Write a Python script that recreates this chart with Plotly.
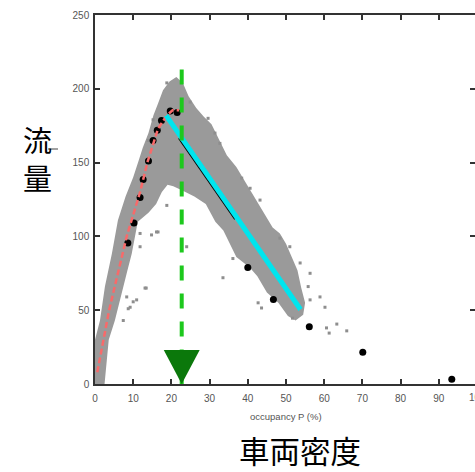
import plotly.graph_objects as go

# ---- data ----
x_ticks = [0, 10, 20, 30, 40, 50, 60, 70, 80, 90]
y_ticks = [0, 50, 100, 150, 200, 250]

# outline of the dense gray scatter cloud (occupancy %, flow)
cloud_x = [0, 0, 1.3, 2.6, 4.4, 6.0, 8.0, 10.0, 11.5, 12.5, 14.0, 15.3, 16.5, 17.8, 19.5, 21.3,
           23.0, 24.5, 26.5, 28.5, 30.5, 32.5, 34.5, 37.0, 39.5, 42.0, 44.5, 46.5, 48.4, 50.0,
           51.5, 53.0, 54.0, 55.0, 54.5, 52.5, 50.5, 48.0, 45.0, 42.5, 40.5, 37.0, 33.6, 31.5,
           29.0, 26.0, 23.0, 20.5, 19.0, 17.5, 16.0, 14.0, 11.2, 10.5, 9.6, 8.5, 7.4, 6.3, 5.2,
           3.6, 3.0, 2.5]
cloud_y = [0, 30, 43, 66, 88, 111, 127, 140, 152, 160, 170, 182, 190, 199, 205, 208,
           204, 195, 187, 181, 176, 165, 155, 147, 136, 125, 114, 106, 102, 95,
           86, 77, 65, 55, 47, 43, 46, 55, 62, 73, 79, 86, 104, 110,
           122, 127, 131, 134, 135, 130, 122, 116, 110, 100, 88, 77, 66, 55, 43,
           30, 12, 0]

# isolated gray points around the cloud
scat_x = [11.8, 14.8, 16.5, 11.8, 13.1, 10.9, 9.2, 7.4, 8.3, 24.0, 16.1, 13.4, 10.0, 8.7,
          33.5, 18.8, 53.7, 56.3, 55.8, 58.9, 60.2, 56.3, 60.6, 63.3, 65.9, 61.3, 51.0,
          43.6, 42.7, 51.7, 43.2, 40.6, 38.4, 48.4, 36.1, 29.6, 31.4, 32.7, 24.9, 15.2,
          13.9, 18.8]
scat_y = [102, 101, 103, 93, 65, 57, 52, 43, 59, 93, 103, 65, 55.7, 51,
          72, 121, 82, 75, 66, 59, 52, 57, 38, 40.6, 36, 34.5, 93,
          51.5, 55, 44.6, 124.6, 132.6, 139.5, 98.8, 85, 180, 170, 163, 191, 179,
          165, 204]

# mean points (black dots)
mean_x = [8.6, 10.2, 11.8, 12.6, 14.0, 15.2, 16.3, 17.4, 19.7, 21.5, 40.0, 46.7, 56.1, 70.1, 93.4]
mean_y = [95.5, 109, 126.3, 138.5, 151, 165, 172, 178.5, 185, 184, 79, 57.3, 38.8, 21.5, 3.2]

# free-flow fit (red dashed)
free_x = [0.6, 3.7, 8.3, 11.8, 13.7, 16.5, 18.8, 20.3, 22.0]
free_y = [8, 50, 100, 130, 150, 173, 182, 185.5, 185.5]

# congested fit (cyan) and black segment just below it
cong_x = [18.6, 53.8]
cong_y = [182, 50.5]
black_x = [22.3, 37.0]
black_y = [167.2, 112.3]

# critical occupancy marker (green dashed arrow)
crit_x = [22.7, 22.7]
crit_y = [213, 0]
arrow_x = [18.0, 27.4, 22.7, 18.0]
arrow_y = [23, 23, 0, 23]

FONT = "Liberation Sans, Arial, sans-serif"
CJK = "Noto Sans CJK JP"

# plot area in pixels: x 95..477 (0..100), y 15..384 (250..0)
L, T, PW, PH = 95, 15, 380, 369


def px(xp):
    return (xp - L) / PW


def py(yp):
    return 1 - (yp - T) / PH


fig = go.Figure()
fig.add_trace(go.Scatter(x=cloud_x, y=cloud_y, mode="lines", fill="toself",
                         fillcolor="#9a9a9a", line=dict(width=0), hoverinfo="skip"))
fig.add_trace(go.Scatter(x=scat_x, y=scat_y, mode="markers",
                         marker=dict(symbol="square", size=3, color="#8e8e8e"), hoverinfo="skip"))
fig.add_trace(go.Scatter(x=mean_x, y=mean_y, mode="markers",
                         marker=dict(size=7, color="black")))
fig.add_trace(go.Scatter(x=free_x, y=free_y, mode="lines",
                         line=dict(color="#f86a6a", width=2.5, dash="6px,3px")))
fig.add_trace(go.Scatter(x=black_x, y=black_y, mode="lines",
                         line=dict(color="black", width=5)))
fig.add_trace(go.Scatter(x=cong_x, y=cong_y, mode="lines",
                         line=dict(color="#00e5ee", width=5)))
fig.add_trace(go.Scatter(x=crit_x, y=crit_y, mode="lines",
                         line=dict(color="#1dc81d", width=4, dash="15px,13px")))
fig.add_trace(go.Scatter(x=arrow_x, y=arrow_y, mode="lines", fill="toself",
                         fillcolor="#0b780b", line=dict(width=0, color="#0b780b")))
# invisible trace for the right tick axis
fig.add_trace(go.Scatter(x=[None], y=[None], yaxis="y2", showlegend=False))

axis_common = dict(showgrid=False, zeroline=False, ticks="inside", ticklen=5,
                   tickwidth=1.5, tickcolor="#333", linecolor="#333", linewidth=1.5,
                   tickfont=dict(family=FONT, size=10, color="#555"))

fig.update_layout(
    width=475, height=472,
    margin=dict(l=L, r=0, t=T, b=472 - T - PH),
    paper_bgcolor="white", plot_bgcolor="white",
    showlegend=False,
    xaxis=dict(range=[0, 99.476], tickvals=x_ticks, showline=True, mirror="ticks",
               ticklabelstandoff=4, **axis_common),
    yaxis=dict(range=[0, 250], tickvals=y_ticks, showline=True, mirror=False,
               ticklabelstandoff=2, **axis_common),
    yaxis2=dict(range=[0, 250], tickvals=y_ticks, overlaying="y", side="right",
                showline=False, showticklabels=False, showgrid=False, zeroline=False,
                ticks="inside", ticklen=5, tickwidth=1.5, tickcolor="#333"),
    annotations=[
        dict(x=px(477), y=py(397), xref="paper", yref="paper", text="100", showarrow=False,
             xanchor="center", yanchor="middle", font=dict(family=FONT, size=10, color="#555")),
        dict(x=px(286), y=py(416), xref="paper", yref="paper", text="occupancy P (%)",
             showarrow=False, xanchor="center", yanchor="middle",
             font=dict(family=FONT, size=9.5, color="#555")),
        dict(x=px(37), y=py(139), xref="paper", yref="paper", text="流",
             showarrow=False, xanchor="center", yanchor="middle",
             font=dict(family=CJK, size=29, color="black")),
        dict(x=px(37), y=py(177), xref="paper", yref="paper", text="量",
             showarrow=False, xanchor="center", yanchor="middle",
             font=dict(family=CJK, size=29, color="black")),
        dict(x=px(300), y=py(450), xref="paper", yref="paper",
             text="車両密度", showarrow=False, xanchor="center", yanchor="middle",
             font=dict(family=CJK, size=30.5, color="black")),
    ],
    shapes=[
        dict(type="line", xref="paper", yref="paper", x0=px(48), x1=px(58),
             y0=py(149), y1=py(149), line=dict(color="#444", width=1)),
    ],
)

fig.write_html("out.html")
